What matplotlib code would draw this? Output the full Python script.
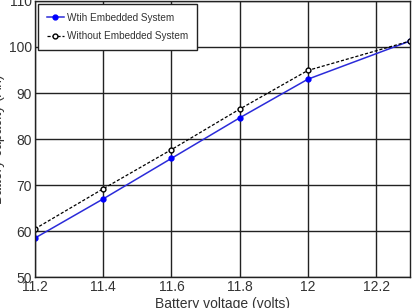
import matplotlib.pyplot as plt

voltage = [11.2, 11.4, 11.6, 11.8, 12.0, 12.3]
with_embedded = [58.5, 67.0, 75.8, 84.6, 93.0, 101.3]
without_embedded = [60.5, 69.2, 77.7, 86.5, 94.9, 101.3]
x_ticks = [11.2, 11.4, 11.6, 11.8, 12, 12.2]
x_tick_labels = ["11.2", "11.4", "11.6", "11.8", "12", "12.2"]
y_ticks = [50, 60, 70, 80, 90, 100, 110]

plt.rcParams['font.family'] = ['Liberation Sans', 'DejaVu Sans']

fig = plt.figure(figsize=(4.16, 3.08), dpi=100)
ax = fig.add_axes([0.084, 0.1, 0.902, 0.897])

ax.plot(voltage, with_embedded, color='#2b2bd9', linestyle='-', linewidth=1.1,
        marker='o', markersize=3.5, markerfacecolor='blue', markeredgecolor='blue',
        label='Wtih Embedded System')
ax.plot(voltage, without_embedded, color='black', linestyle='--', linewidth=0.9,
        dashes=(2.5, 1.5), marker='o', markersize=3.5, markerfacecolor='white',
        markeredgecolor='black', label='Without Embedded System')

ax.set_xlim(11.2, 12.3)
ax.set_ylim(50, 110)
ax.set_xticks(x_ticks)
ax.set_xticklabels(x_tick_labels)
ax.set_yticks(y_ticks)
ax.tick_params(labelsize=10, length=0, pad=2, colors='#333333')
ax.grid(True, color='#222222', linewidth=1.0)
for s in ax.spines.values():
    s.set_color('#222222')
    s.set_linewidth(1.0)

ax.set_xlabel("Battery voltage (volts)", fontsize=10, labelpad=2, color='#333333')
ax.set_ylabel("Battery capacity (Ah)", fontsize=10, labelpad=3, color='#333333')

leg = ax.legend(loc='upper left', fontsize=7.2, fancybox=False, framealpha=1,
                edgecolor='#222222', borderpad=0.9, handlelength=1.7,
                handletextpad=0.3, labelspacing=0.85, borderaxespad=0.3)
leg.get_frame().set_linewidth(1.0)
for t in leg.get_texts():
    t.set_color('#333333')

fig.savefig("out.png", dpi=100)
